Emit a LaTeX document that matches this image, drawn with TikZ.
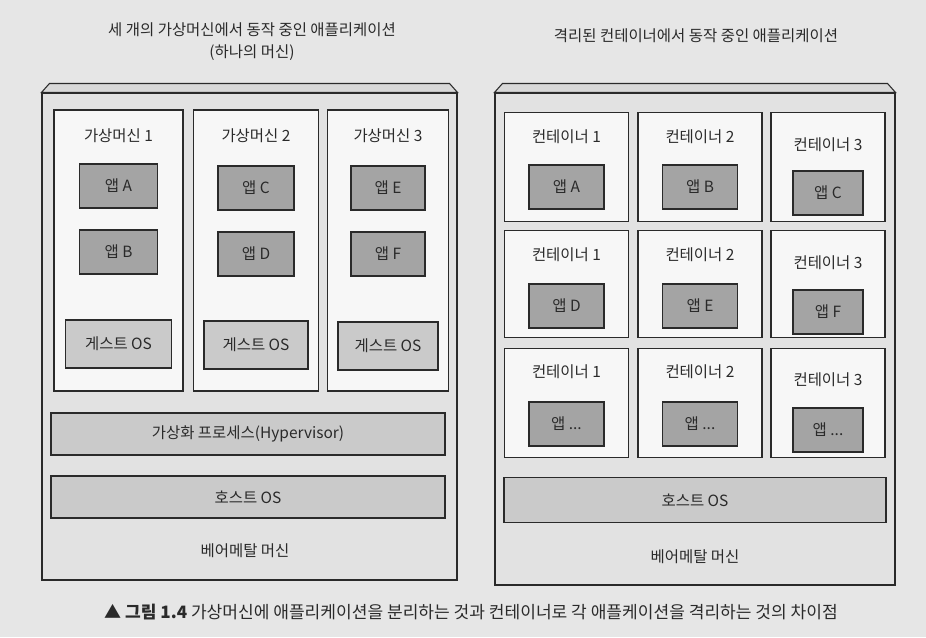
\documentclass[tikz,border=0pt]{standalone}
\usepackage{fontspec}
\setmainfont{Noto Sans CJK KR}
\usetikzlibrary{calc}
\definecolor{pagebg}{HTML}{E6E6E6}
\definecolor{outerfill}{HTML}{E2E2E2}
\definecolor{lidfill}{HTML}{D8D8D8}
\definecolor{innerfill}{HTML}{F7F7F7}
\definecolor{appfill}{HTML}{A4A4A4}
\definecolor{osfill}{HTML}{CACACA}
\definecolor{ink}{HTML}{2A2A2A}
\newcommand\appdots{...}
\begin{document}
\begin{tikzpicture}[x=0.75pt,y=-0.75pt,
  every node/.style={font=\fontsize{11.6}{14}\selectfont, text=ink},
  line/.style={draw=ink, line width=0.8pt},
  wh/.style 2 args={minimum width=#1*0.75pt, minimum height=#2*0.75pt},
  outerbox/.style={line, fill=outerfill, inner sep=0},
  innerbox/.style={line, fill=innerfill, inner sep=0},
  appbox/.style={line, fill=appfill, inner sep=0},
  osbox/.style={line, fill=osfill, inner sep=0},
  lbl/.style={inner sep=1pt}
]
\fill[pagebg] (0,0) rectangle (926,637);
\useasboundingbox (0,0) rectangle (926,637);

% ---------- titles ----------
\node[lbl] (tl1) at (252,30) {세 개의 가상머신에서 동작 중인 애플리케이션};
\node[lbl] (tl2) at (252,53) {(하나의 머신)};
\node[lbl] (tr) at (696,36) {격리된 컨테이너에서 동작 중인 애플리케이션};

% ---------- left: virtual machines ----------
\node[outerbox, wh={415}{487}] (lm) at (249.5,336.5) {};
\draw[line, fill=lidfill] (lm.north west) -- ($(lm.north west)+(8,-9)$)
  -- ($(lm.north east)+(-8,-9)$) -- (lm.north east) -- cycle;

\node[innerbox, wh={129}{281}] (vm1) at (118.5,250.5) {};
\node[innerbox, wh={125}{281}] (vm2) at (256,250.5) {};
\node[innerbox, wh={121}{281}] (vm3) at (388,250.5) {};

\node[lbl] (vm1l) at (118.5,136) {가상머신 1};
\node[lbl] (vm2l) at (256,136) {가상머신 2};
\node[lbl] (vm3l) at (388,136) {가상머신 3};

\node[appbox, wh={78}{44}] (appA) at (118.5,186) {앱 A};
\node[appbox, wh={78}{44}] (appB) at (118.5,252) {앱 B};
\node[appbox, wh={76}{44}] (appC) at (256,188) {앱 C};
\node[appbox, wh={76}{44}] (appD) at (256,254) {앱 D};
\node[appbox, wh={74}{44}] (appE) at (388,188) {앱 E};
\node[appbox, wh={74}{44}] (appF) at (388,254) {앱 F};

\node[osbox, wh={106}{48}] (g1) at (118.5,344) {게스트 OS};
\node[osbox, wh={104}{48}] (g2) at (256,345) {게스트 OS};
\node[osbox, wh={100}{48}] (g3) at (388,346) {게스트 OS};

\node[osbox, wh={394}{42}] (hyp) at (248,434) {가상화 프로세스(Hypervisor)};
\node[osbox, wh={394}{42}] (hostl) at (248,497) {호스트 OS};
\node[lbl] (bml) at (245,551) {베어메탈 머신};

% ---------- right: containers ----------
\node[outerbox, wh={400}{492}] (rm) at (695,339) {};
\draw[line, fill=lidfill] (rm.north west) -- ($(rm.north west)+(8,-9)$)
  -- ($(rm.north east)+(-8,-9)$) -- (rm.north east) -- cycle;

% row 1
\node[innerbox, wh={124}{109}] (c11) at (566.5,167) {};
\node[innerbox, wh={124}{109}] (c12) at (700,167) {};
\node[innerbox, wh={114}{109}] (c13) at (828,167) {};
% row 2
\node[innerbox, wh={124}{107}] (c21) at (566.5,284) {};
\node[innerbox, wh={124}{107}] (c22) at (700,284) {};
\node[innerbox, wh={114}{107}] (c23) at (828,284) {};
% row 3
\node[innerbox, wh={124}{109}] (c31) at (566.5,403) {};
\node[innerbox, wh={124}{109}] (c32) at (700,403) {};
\node[innerbox, wh={114}{109}] (c33) at (828,403) {};

\foreach \r/\ly/\ay/\aa/\ab/\ac in {1/137/187/A/B/C, 2/255/306/D/E/F, 3/372/424/\appdots/\appdots/\appdots}{
  \node[lbl] (c\r1l) at (566.5,\ly) {컨테이너 1};
  \node[lbl] (c\r2l) at (700,\ly) {컨테이너 2};
  \node[lbl] (c\r3l) at (828,\ly+8) {컨테이너 3};
  \node[appbox, wh={75}{44}] (ca\r1) at (566.5,\ay) {앱 \aa};
  \node[appbox, wh={75}{44}] (ca\r2) at (700,\ay) {앱 \ab};
  \node[appbox, wh={70}{44}] (ca\r3) at (828,\ay+6) {앱 \ac};
}

\node[osbox, wh={382}{45}] (hostr) at (695,500) {호스트 OS};
\node[lbl] (bmr) at (695,557) {베어메탈 머신};

% ---------- caption ----------
\node[lbl, font=\fontsize{12.8}{15}\selectfont] (cap) at (471,612)
  {▲ \textbf{그림 1.4} 가상머신에 애플리케이션을 분리하는 것과 컨테이너로 각 애플케이션을 격리하는 것의 차이점};
\end{tikzpicture}
\end{document}
